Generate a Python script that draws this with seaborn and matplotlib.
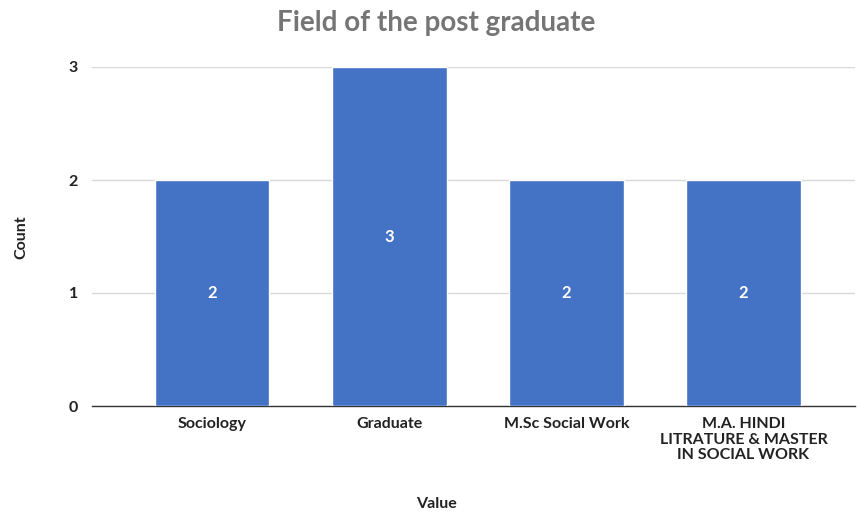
import matplotlib
matplotlib.use("Agg")
import matplotlib.pyplot as plt
import seaborn as sns
import pandas as pd

categories = ["Sociology", "Graduate", "M.Sc Social Work",
              "M.A. HINDI\nLITRATURE & MASTER\nIN SOCIAL WORK"]
counts = [2, 3, 2, 2]
title = "Field of the post graduate"

sns.set_theme(style="white")
plt.rcParams["font.family"] = ["Lato", "DejaVu Sans"]

df = pd.DataFrame({"Value": categories, "Count": counts})

fig = plt.figure(figsize=(8.57, 5.13), dpi=100)
ax = fig.add_axes([92/857, 1-406/513, (855-92)/857, (406-67)/513])

sns.barplot(data=df, x="Value", y="Count", color="#4472C4", saturation=1,
            width=0.645, ax=ax, zorder=3)

ax.set_ylim(0, 3)
ax.set_xlim(-0.68, 3.63)
ax.set_yticks([0, 1, 2, 3])
ax.yaxis.grid(True, color="#d9d9d9", linewidth=1, zorder=0)
for s in ["top", "right", "left"]:
    ax.spines[s].set_visible(False)
ax.spines["bottom"].set_color("#333333")
ax.spines["bottom"].set_linewidth(1)
ax.tick_params(axis="y", length=0, pad=10, labelsize=11.5, labelcolor="#222222")
ax.tick_params(axis="x", length=0, pad=8, labelsize=11.5, labelcolor="#222222")
for lbl in ax.get_yticklabels() + ax.get_xticklabels():
    lbl.set_fontweight("bold")
    lbl.set_linespacing(1.15)
for lbl in ax.get_xticklabels():
    lbl.set_multialignment("center")

for c in ax.containers:
    ax.bar_label(c, labels=[str(v) for v in counts], label_type="center",
                 color="white", fontsize=12, fontweight="bold")

ax.set_xlabel("Value", fontsize=11.5, fontweight="bold", color="#222222")
ax.set_ylabel("Count", fontsize=11.5, fontweight="bold", color="#222222")
ax.xaxis.set_label_coords((436-92)/763, -(497-406)/339)
ax.yaxis.set_label_coords(-(92-28)/763, (406-237)/339)

fig.text(436/857, 1-23/513, title, ha="center", va="center",
         fontsize=20, fontweight="bold", color="#757575")

fig.savefig("out.png", dpi=100, facecolor="white")
